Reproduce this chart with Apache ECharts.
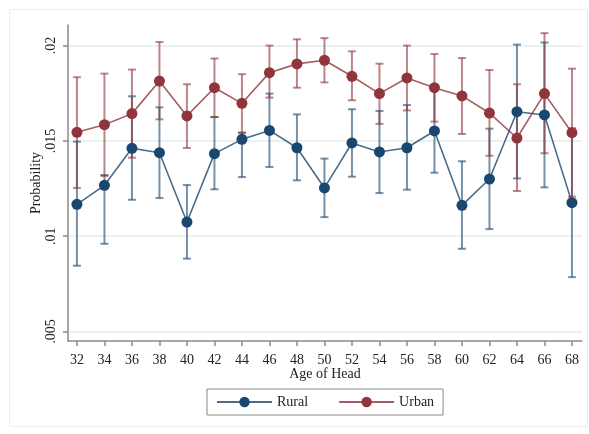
<!DOCTYPE html>
<html>
<head>
<meta charset="utf-8">
<script src="https://cdn.jsdelivr.net/npm/echarts@6/dist/echarts.min.js"></script>
<style>
  html, body { margin: 0; padding: 0; background: #fff; }
  #main { width: 589px; height: 434px; }
</style>
</head>
<body>
<div id="main"></div>
<script>
// age of household head
var ages = [32, 34, 36, 38, 40, 42, 44, 46, 48, 50, 52, 54, 56, 58, 60, 62, 64, 66, 68];

var ruralMean = [0.01167, 0.01267, 0.01461, 0.01438, 0.01074, 0.01433, 0.01508, 0.01555, 0.01464, 0.01253,
  0.01489, 0.01442, 0.01464, 0.01552, 0.01162, 0.01300, 0.01653, 0.01636, 0.01176];
var ruralLow = [0.00845, 0.00960, 0.01191, 0.01200, 0.00882, 0.01246, 0.01310, 0.01363, 0.01293, 0.01100,
  0.01312, 0.01226, 0.01244, 0.01333, 0.00934, 0.01037, 0.01303, 0.01256, 0.00785];
var ruralHigh = [0.01496, 0.01321, 0.01734, 0.01676, 0.01268, 0.01625, 0.01543, 0.01748, 0.01639, 0.01407,
  0.01666, 0.01657, 0.01688, 0.01771, 0.01393, 0.01564, 0.02005, 0.02016, 0.01566];

var urbanMean = [0.01545, 0.01585, 0.01643, 0.01814, 0.01631, 0.01779, 0.01697, 0.01858, 0.01904, 0.01923,
  0.01839, 0.01748, 0.01830, 0.01779, 0.01736, 0.01646, 0.01515, 0.01748, 0.01543];
var urbanLow = [0.01253, 0.01316, 0.01412, 0.01613, 0.01463, 0.01625, 0.01543, 0.01727, 0.01779, 0.01807,
  0.01713, 0.01589, 0.01660, 0.01601, 0.01536, 0.01422, 0.01237, 0.01435, 0.01207];
var urbanHigh = [0.01834, 0.01853, 0.01874, 0.02019, 0.01797, 0.01932, 0.01850, 0.02000, 0.02033, 0.02039,
  0.01970, 0.01905, 0.02000, 0.01956, 0.01935, 0.01872, 0.01797, 0.02065, 0.01879];

var yTicks = [0.005, 0.01, 0.015, 0.02];

var navy = '#1a476f';
var maroon = '#90353b';
var serif = '"Liberation Serif", "DejaVu Serif", serif';

function pairs(ys) {
  return ages.map(function (a, i) { return [a, ys[i]]; });
}
function ciData(lo, hi) {
  return ages.map(function (a, i) { return [a, lo[i], hi[i]]; });
}

// draws a capped vertical CI bar
function capBar(color) {
  return function (params, api) {
    var top = api.coord([api.value(0), api.value(2)]);
    var bot = api.coord([api.value(0), api.value(1)]);
    var w = 4;
    var style = { stroke: color, lineWidth: 2, opacity: 0.6 };
    return {
      type: 'group',
      children: [
        { type: 'line', shape: { x1: top[0], y1: top[1], x2: bot[0], y2: bot[1] }, style: style },
        { type: 'line', shape: { x1: top[0] - w, y1: top[1], x2: top[0] + w, y2: top[1] }, style: style },
        { type: 'line', shape: { x1: bot[0] - w, y1: bot[1], x2: bot[0] + w, y2: bot[1] }, style: style }
      ]
    };
  };
}

var chart = echarts.init(document.getElementById('main'));

chart.setOption({
  animation: false,
  textStyle: { fontFamily: serif },
  graphic: [{
    type: 'rect',
    shape: { x: 9.5, y: 9.5, width: 578, height: 417 },
    style: { fill: 'none', stroke: '#e8eef1', lineWidth: 1 },
    z: -1
  }],
  grid: { left: 68, right: 7, top: 25, bottom: 93 },
  legend: {
    data: ['Rural', 'Urban'],
    left: 207,
    top: 389,
    orient: 'horizontal',
    itemWidth: 55,
    itemHeight: 13,
    itemGap: 30,
    padding: [6, 9],
    borderColor: '#888',
    borderWidth: 1,
    textStyle: { fontFamily: serif, fontSize: 14, color: '#222' }
  },
  xAxis: {
    type: 'value',
    min: 31.35,
    max: 68.73,
    name: 'Age of Head',
    nameLocation: 'middle',
    nameGap: 26,
    nameMoveOverlap: false,
    nameTextStyle: { fontFamily: serif, fontSize: 14, color: '#222' },
    axisLine: { lineStyle: { color: '#8a8a8a', width: 1.5 } },
    axisTick: { length: 5, customValues: ages, lineStyle: { color: '#8a8a8a', width: 1.5 } },
    axisLabel: { customValues: ages, margin: 12, fontFamily: serif, fontSize: 14, color: '#222' },
    splitLine: { show: false }
  },
  yAxis: {
    type: 'value',
    min: 0.0045,
    max: 0.02108,
    name: 'Probability',
    nameLocation: 'middle',
    nameGap: 25,
    nameMoveOverlap: false,
    nameTextStyle: { fontFamily: serif, fontSize: 14, color: '#222' },
    axisLine: { show: true, lineStyle: { color: '#8a8a8a', width: 1.5 } },
    axisTick: { show: true, length: 5, customValues: yTicks, lineStyle: { color: '#8a8a8a', width: 1.5 } },
    axisLabel: {
      customValues: yTicks,
      rotate: 90,
      margin: 10,
      fontFamily: serif,
      fontSize: 14,
      color: '#222',
      formatter: function (v) { return String(v).replace(/^0/, ''); }
    },
    splitLine: { show: true, lineStyle: { color: '#e3ecef', width: 1.5 } }
  },
  series: [
    {
      name: 'Rural CI',
      type: 'custom',
      renderItem: capBar(navy),
      data: ciData(ruralLow, ruralHigh),
      encode: { x: 0, y: [1, 2] },
      z: 1,
      silent: true
    },
    {
      name: 'Urban CI',
      type: 'custom',
      renderItem: capBar(maroon),
      data: ciData(urbanLow, urbanHigh),
      encode: { x: 0, y: [1, 2] },
      z: 1,
      silent: true
    },
    {
      name: 'Rural',
      type: 'line',
      data: pairs(ruralMean),
      symbol: 'circle',
      symbolSize: 11,
      itemStyle: { color: navy },
      lineStyle: { color: navy, width: 1.6, opacity: 0.8 },
      z: 3
    },
    {
      name: 'Urban',
      type: 'line',
      data: pairs(urbanMean),
      symbol: 'circle',
      symbolSize: 11,
      itemStyle: { color: maroon },
      lineStyle: { color: maroon, width: 1.6, opacity: 0.8 },
      z: 3
    }
  ]
});
</script>
</body>
</html>
